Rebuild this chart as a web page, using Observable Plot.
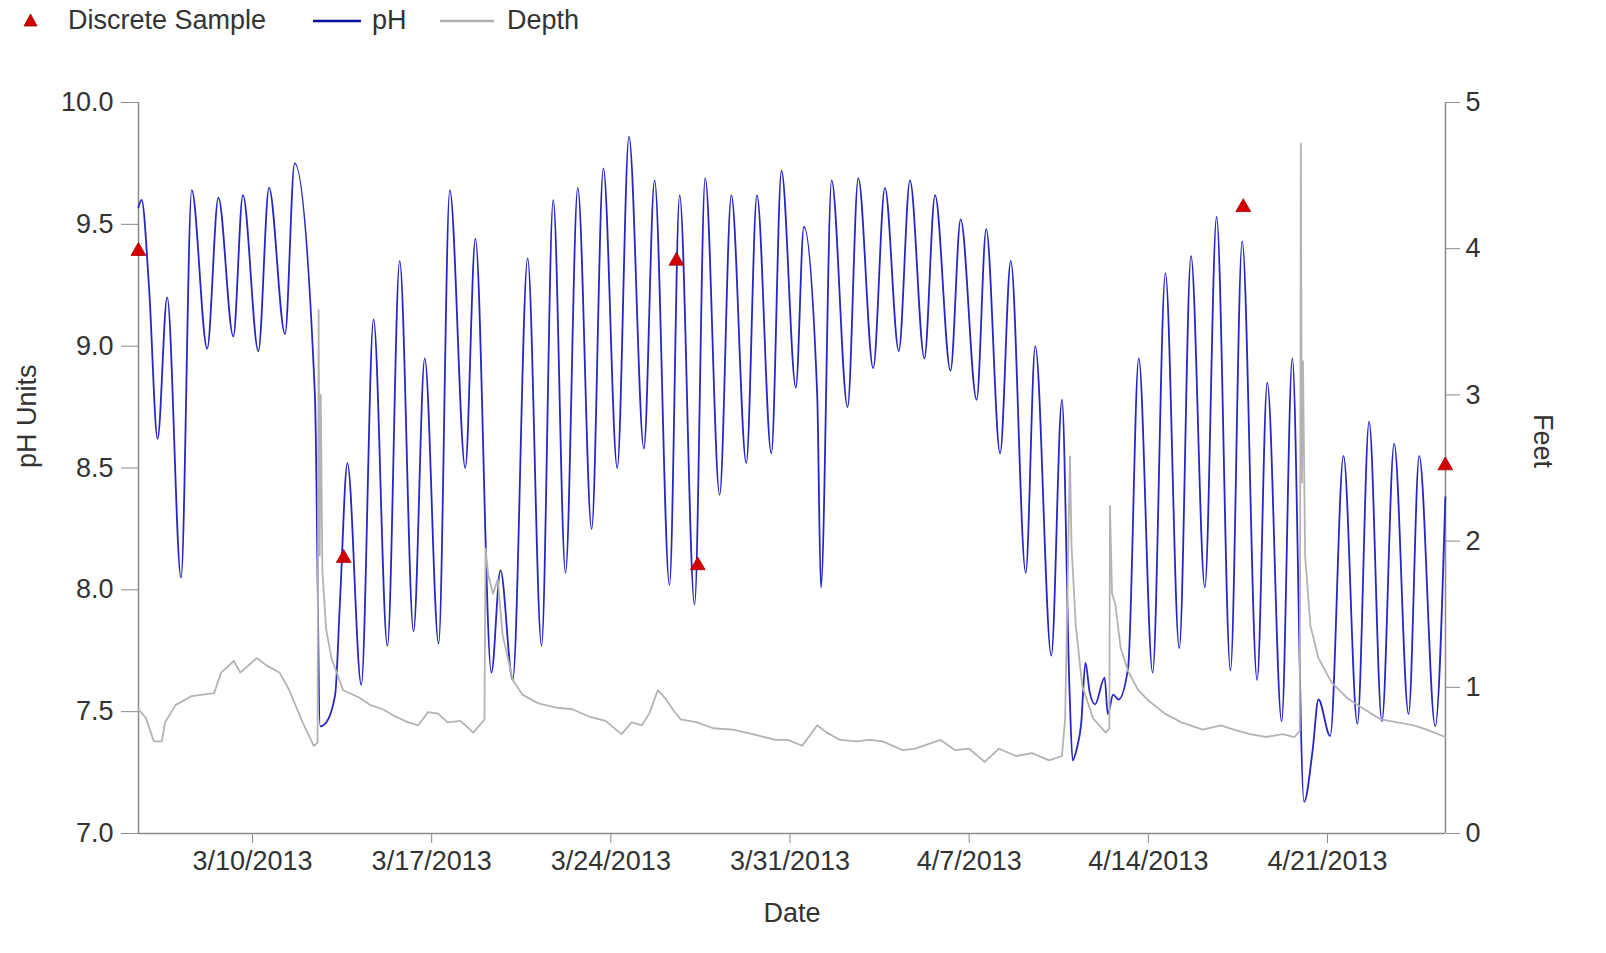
<!DOCTYPE html>
<html>
<head>
<meta charset="utf-8">
<script src="https://cdn.jsdelivr.net/npm/d3@7"></script>
<script src="https://cdn.jsdelivr.net/npm/@observablehq/plot@0.6"></script>
<style>
  html, body { margin: 0; padding: 0; background: #fff; }
  #legend { position: relative; width: 1606px; height: 42px; font: 27px "Liberation Sans", Arial, sans-serif; color: #333; }
  #legend span { position: absolute; top: 0; line-height: 40px; white-space: nowrap; }
  #legend svg { position: absolute; }
</style>
</head>
<body>
<div id="legend">
  <svg style="left:23px;top:13px" width="15" height="14"><polygon points="7.5,1 14,13 1,13" fill="#d40000" stroke="#a00000" stroke-width="0.8"/></svg>
  <span style="left:68px">Discrete Sample</span>
  <svg style="left:313px;top:19px" width="48" height="4"><line x1="0" y1="2" x2="48" y2="2" stroke="#0b0b9c" stroke-width="2.6"/></svg>
  <span style="left:372px">pH</span>
  <svg style="left:440px;top:19px" width="54" height="4"><line x1="0" y1="2" x2="54" y2="2" stroke="#b0b0b0" stroke-width="2.6"/></svg>
  <span style="left:507px">Depth</span>
</div>
<div id="chart"></div>
<script>
// ---------------- data ----------------
const phTimes = [
  "2013-03-05T13:00","2013-03-05T16:00","2013-03-05T23:00","2013-03-06T07:00","2013-03-06T16:00",
  "2013-03-07T05:00","2013-03-07T15:00","2013-03-08T05:30","2013-03-08T16:00","2013-03-09T06:00",
  "2013-03-09T15:00","2013-03-10T05:30","2013-03-10T15:30","2013-03-11T06:30","2013-03-11T15:30",
  "2013-03-12T10:30","2013-03-12T15:30","2013-03-12T20:00","2013-03-13T05:30","2013-03-13T10:00",
  "2013-03-13T17:00","2013-03-14T06:00","2013-03-14T17:30","2013-03-15T06:30","2013-03-15T18:00",
  "2013-03-16T07:00","2013-03-16T17:30","2013-03-17T06:30","2013-03-17T17:00","2013-03-18T07:30",
  "2013-03-18T17:00","2013-03-19T08:00","2013-03-19T16:30","2013-03-20T04:00","2013-03-20T18:00",
  "2013-03-21T07:00","2013-03-21T18:00","2013-03-22T05:30","2013-03-22T17:00","2013-03-23T06:00",
  "2013-03-23T17:00","2013-03-24T06:00","2013-03-24T17:00","2013-03-25T07:00","2013-03-25T17:00",
  "2013-03-26T07:00","2013-03-26T16:30","2013-03-27T06:30","2013-03-27T16:30","2013-03-28T06:00",
  "2013-03-28T17:00","2013-03-29T07:00","2013-03-29T17:00","2013-03-30T06:30","2013-03-30T16:00",
  "2013-03-31T05:30","2013-03-31T13:00","2013-04-01T01:30","2013-04-01T05:00","2013-04-01T15:00",
  "2013-04-02T06:00","2013-04-02T16:00","2013-04-03T06:00","2013-04-03T17:00","2013-04-04T06:00",
  "2013-04-04T16:30","2013-04-05T06:00","2013-04-05T16:00","2013-04-06T06:30","2013-04-06T16:00",
  "2013-04-07T07:00","2013-04-07T16:00","2013-04-08T05:00","2013-04-08T15:00","2013-04-09T05:00",
  "2013-04-09T14:00","2013-04-10T05:00","2013-04-10T15:00","2013-04-10T22:00","2013-04-11T01:00",
  "2013-04-11T05:00","2013-04-11T09:00","2013-04-11T13:00","2013-04-11T17:00","2013-04-11T22:00",
  "2013-04-12T07:00","2013-04-12T10:00","2013-04-12T15:00","2013-04-12T20:00","2013-04-13T05:00",
  "2013-04-13T15:00","2013-04-14T04:00","2013-04-14T16:00","2013-04-15T05:00","2013-04-15T16:00",
  "2013-04-16T05:00","2013-04-16T16:00","2013-04-17T05:00","2013-04-17T16:00","2013-04-18T06:00",
  "2013-04-18T15:30","2013-04-19T05:00","2013-04-19T15:00","2013-04-20T02:00","2013-04-20T10:00",
  "2013-04-20T15:30","2013-04-21T02:30","2013-04-21T15:00","2013-04-22T04:00","2013-04-22T15:00",
  "2013-04-23T03:00","2013-04-23T14:30","2013-04-24T04:00","2013-04-24T14:00","2013-04-25T05:00",
  "2013-04-25T14:30"
];
const phValues = [
  9.57, 9.60, 9.24, 8.62, 9.20,
  8.05, 9.64, 8.99, 9.61, 9.04,
  9.62, 8.98, 9.65, 9.05, 9.75,
  8.80, 7.44, 7.45, 7.57, 7.95,
  8.52, 7.61, 9.11, 7.77, 9.35,
  7.83, 8.95, 7.78, 9.64, 8.50,
  9.44, 7.66, 8.08, 7.63, 9.36,
  7.77, 9.60, 8.07, 9.65, 8.25,
  9.73, 8.50, 9.86, 8.58, 9.68,
  8.02, 9.62, 7.94, 9.69, 8.39,
  9.62, 8.52, 9.62, 8.56, 9.72,
  8.83, 9.49, 8.80, 8.01, 9.68,
  8.75, 9.69, 8.91, 9.65, 8.98,
  9.68, 8.95, 9.62, 8.90, 9.52,
  8.78, 9.48, 8.56, 9.35, 8.07,
  9.00, 7.73, 8.78, 7.60, 7.30,
  7.35, 7.45, 7.70, 7.58, 7.53,
  7.64, 7.49, 7.57, 7.55, 7.68,
  8.95, 7.66, 9.30, 7.76, 9.37,
  8.01, 9.53, 7.67, 9.43, 7.63,
  8.85, 7.46, 8.95, 7.13, 7.34,
  7.55, 7.40, 8.55, 7.45, 8.69,
  7.46, 8.60, 7.49, 8.55, 7.44,
  8.38
];
const depthTimes = [
  "2013-03-05T13:00","2013-03-05T20:00","2013-03-06T03:30","2013-03-06T11:00","2013-03-06T14:00",
  "2013-03-07T00:00","2013-03-07T15:00","2013-03-08T12:00","2013-03-08T18:30","2013-03-09T06:30",
  "2013-03-09T12:30","2013-03-10T04:00","2013-03-10T13:00","2013-03-11T01:30","2013-03-11T10:30",
  "2013-03-11T23:00","2013-03-12T09:30","2013-03-12T13:00","2013-03-12T14:00","2013-03-12T15:00",
  "2013-03-12T16:00","2013-03-12T17:30","2013-03-12T21:00","2013-03-13T02:00","2013-03-13T13:00",
  "2013-03-14T04:00","2013-03-14T14:00","2013-03-15T02:00","2013-03-15T14:00","2013-03-16T02:00",
  "2013-03-16T11:30","2013-03-16T20:30","2013-03-17T06:00","2013-03-17T15:00","2013-03-18T03:00",
  "2013-03-18T15:00","2013-03-19T01:30","2013-03-19T02:30","2013-03-19T05:00","2013-03-19T09:30",
  "2013-03-19T14:00","2013-03-19T18:30","2013-03-20T04:00","2013-03-20T13:00","2013-03-21T04:00",
  "2013-03-21T22:00","2013-03-22T12:00","2013-03-23T03:30","2013-03-23T19:00","2013-03-24T10:00",
  "2013-03-24T19:30","2013-03-25T05:00","2013-03-25T12:00","2013-03-25T20:00","2013-03-26T02:30",
  "2013-03-26T10:00","2013-03-26T17:30","2013-03-27T09:00","2013-03-28T00:00","2013-03-28T18:30",
  "2013-03-29T13:00","2013-03-30T10:30","2013-03-30T22:00","2013-03-31T11:30","2013-04-01T01:30",
  "2013-04-01T10:30","2013-04-01T23:00","2013-04-02T14:00","2013-04-03T02:30","2013-04-03T15:00",
  "2013-04-04T09:30","2013-04-04T21:30","2013-04-05T21:00","2013-04-06T11:00","2013-04-07T00:00",
  "2013-04-07T14:30","2013-04-08T04:00","2013-04-08T20:00","2013-04-09T11:00","2013-04-10T03:00",
  "2013-04-10T15:00","2013-04-10T18:00","2013-04-10T22:30","2013-04-11T00:00","2013-04-11T04:00",
  "2013-04-11T10:00","2013-04-11T20:00","2013-04-12T08:00","2013-04-12T11:30","2013-04-12T12:00",
  "2013-04-12T14:00","2013-04-12T17:00","2013-04-12T22:00","2013-04-13T05:00","2013-04-13T14:30",
  "2013-04-14T00:00","2013-04-14T15:30","2013-04-15T07:00","2013-04-16T03:00","2013-04-16T20:00",
  "2013-04-17T08:00","2013-04-17T23:30","2013-04-18T14:30","2013-04-19T06:00","2013-04-19T17:00",
  "2013-04-19T22:00","2013-04-19T23:00","2013-04-20T00:00","2013-04-20T01:00","2013-04-20T03:00",
  "2013-04-20T08:00","2013-04-20T15:30","2013-04-21T04:00","2013-04-21T19:30","2013-04-22T10:30",
  "2013-04-23T02:00","2013-04-23T17:30","2013-04-24T09:00","2013-04-24T21:00","2013-04-25T14:30"
];
const depthValues = [
  0.85, 0.79, 0.63, 0.63, 0.76,
  0.88, 0.94, 0.96, 1.10, 1.18,
  1.10, 1.20, 1.15, 1.10, 0.98,
  0.76, 0.60, 0.62, 3.58, 1.90,
  3.00, 1.80, 1.40, 1.20, 0.98,
  0.93, 0.88, 0.85, 0.80, 0.76,
  0.74, 0.83, 0.82, 0.76, 0.77,
  0.69, 0.78, 1.95, 1.77, 1.64,
  1.74, 1.36, 1.05, 0.95, 0.89,
  0.86, 0.85, 0.80, 0.77, 0.68,
  0.76, 0.74, 0.82, 0.98, 0.93,
  0.85, 0.78, 0.76, 0.72, 0.71,
  0.68, 0.64, 0.64, 0.60, 0.74,
  0.69, 0.64, 0.63, 0.64, 0.63,
  0.57, 0.58, 0.64, 0.57, 0.58,
  0.49, 0.58, 0.53, 0.55, 0.50,
  0.53, 0.79, 2.58, 1.96, 1.42,
  1.01, 0.79, 0.69, 0.72, 2.24,
  1.64, 1.57, 1.27, 1.11, 0.98,
  0.91, 0.82, 0.76, 0.71, 0.74,
  0.71, 0.68, 0.66, 0.68, 0.66,
  0.70, 4.72, 2.40, 3.23, 1.90,
  1.42, 1.20, 1.03, 0.92, 0.85,
  0.78, 0.76, 0.74, 0.71, 0.66
];
const sampleTimes = ["2013-03-05T13:00","2013-03-13T13:30","2013-03-26T13:30","2013-03-27T09:30","2013-04-17T17:00","2013-04-25T14:30"];
const sampleValues = [9.39, 8.13, 9.35, 8.10, 9.57, 8.51];

const phTicks = [7.0, 7.5, 8.0, 8.5, 9.0, 9.5, 10.0];
const phTickLabels = ["7.0", "7.5", "8.0", "8.5", "9.0", "9.5", "10.0"];
const depthTicks = [0, 1, 2, 3, 4, 5];
const depthTickLabels = ["0", "1", "2", "3", "4", "5"];
const dateTicks = ["2013-03-10T00:00","2013-03-17T00:00","2013-03-24T00:00","2013-03-31T00:00","2013-04-07T00:00","2013-04-14T00:00","2013-04-21T00:00"];
const dateTickLabels = ["3/10/2013","3/17/2013","3/24/2013","3/31/2013","4/7/2013","4/14/2013","4/21/2013"];
const xDomain = ["2013-03-05T13:06", "2013-04-25T14:38"];
const phDomain = [7, 10];
const depthDomain = [0, 5];

// ---------------- build ----------------
const parse = s => new Date(s + "Z");
const depthToPh = d => phDomain[0] + (d - depthDomain[0]) * (phDomain[1] - phDomain[0]) / (depthDomain[1] - depthDomain[0]);

const phData = phTimes.map((t, i) => ({date: parse(t), value: phValues[i]}));
const depthData = depthTimes.map((t, i) => ({date: parse(t), value: depthToPh(depthValues[i])}));
const sampleData = sampleTimes.map((t, i) => ({date: parse(t), value: sampleValues[i]}));

const dateLabelOf = new Map(dateTicks.map((t, i) => [+parse(t), dateTickLabels[i]]));
const phLabelOf = new Map(phTicks.map((t, i) => [t, phTickLabels[i]]));
const depthLabelOf = new Map(depthTicks.map((t, i) => [+depthToPh(t).toFixed(6), depthTickLabels[i]]));

const x0 = parse(xDomain[0]), x1 = parse(xDomain[1]);
const axisGray = "#8a8a8a";

const chart = Plot.plot({
  width: 1606,
  height: 911,
  marginLeft: 138,
  marginRight: 161,
  marginTop: 60,
  marginBottom: 120,
  style: {fontFamily: "'Liberation Sans', Arial, sans-serif", fontSize: "27px", color: "#333", background: "#fff", overflow: "visible"},
  x: {type: "utc", domain: [x0, x1]},
  y: {domain: phDomain},
  marks: [
    Plot.axisX({ticks: dateTicks.map(parse), tickFormat: d => dateLabelOf.get(+d), tickSize: 10, tickPadding: 7, label: null, stroke: axisGray, fill: "#333"}),
    Plot.axisY({anchor: "left", ticks: phTicks, tickFormat: d => phLabelOf.get(d), tickSize: 17, tickPadding: 8, label: null, stroke: axisGray, fill: "#333"}),
    Plot.axisY({anchor: "right", ticks: depthTicks.map(depthToPh), tickFormat: d => depthLabelOf.get(+d.toFixed(6)), tickSize: 14, tickPadding: 6, label: null, stroke: axisGray, fill: "#333"}),
    Plot.ruleX([x0, x1], {stroke: axisGray, strokeWidth: 1.5}),
    Plot.ruleY([phDomain[0]], {stroke: axisGray, strokeWidth: 1.5}),
    Plot.line(phData, {x: "date", y: "value", stroke: "#2626c4", strokeWidth: 1.8, curve: "monotone-x"}),
    Plot.line(depthData, {x: "date", y: "value", stroke: "#b3b3b3", strokeWidth: 1.8}),
    Plot.dot(sampleData, {x: "date", y: "value", symbol: "triangle", r: 5.5, fill: "#d40000", stroke: "#a00000", strokeWidth: 0.8}),
    Plot.text(["Date"], {frameAnchor: "bottom", dy: 88, fill: "#333"}),
    Plot.text(["pH Units"], {frameAnchor: "left", dx: -111, rotate: -90, fill: "#333"}),
    Plot.text(["Feet"], {frameAnchor: "right", dx: 97, rotate: 90, fill: "#333"})
  ]
});
document.getElementById("chart").appendChild(chart);
</script>
</body>
</html>
